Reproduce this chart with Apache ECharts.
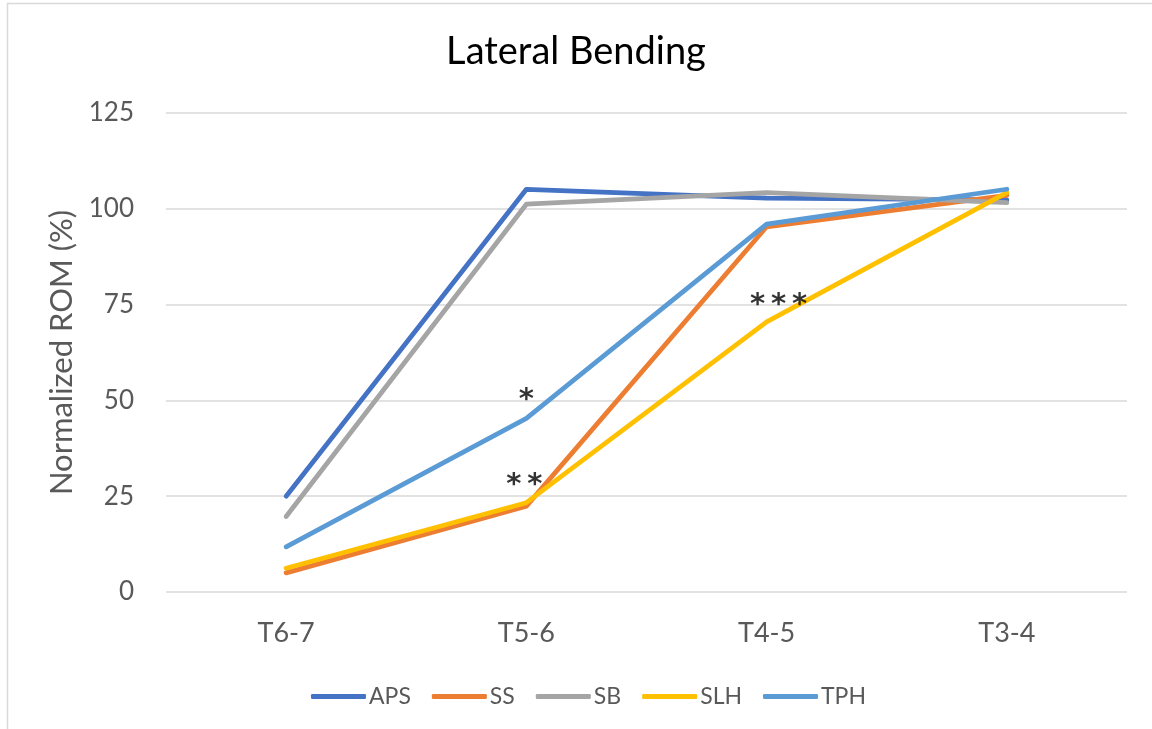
<!DOCTYPE html>
<html>
<head>
<meta charset="utf-8">
<script src="https://cdn.jsdelivr.net/npm/echarts@6/dist/echarts.min.js"></script>
<style>
html,body{margin:0;padding:0;background:#fff;}
#chart{width:1152px;height:729px;}
</style>
</head>
<body>
<div id="chart"></div>
<script>
const categories = ['T6-7', 'T5-6', 'T4-5', 'T3-4'];
const seriesNames = ['APS', 'SS', 'SB', 'SLH', 'TPH'];
const APS = [25, 105.1, 102.8, 102.3];
const SS  = [5.0, 22.4, 95.3, 103.5];
const SB  = [19.7, 101.2, 104.2, 101.6];
const SLH = [6.2, 23.3, 70.5, 104.2];
const TPH = [11.8, 45.3, 96, 105.1];
const colors = ['#4472C4', '#ED7D31', '#A5A5A5', '#FFC000', '#5B9BD5'];
const yTicks = [0, 25, 50, 75, 100, 125];
// significance annotations: [category, value, text]
const annotations = [
  ['T5-6', 51.7, '*'],
  ['T5-6', 29.5, '*\u2009*'],
  ['T4-5', 76.5, '*\u2009*\u2009*']
];
const annotationShiftX = [0, -2, 12];

const FONT = 'Lato, "Open Sans", sans-serif';
const values = [APS, SS, SB, SLH, TPH];

const chart = echarts.init(document.getElementById('chart'), null, {renderer: 'canvas'});
const series = seriesNames.map((n, i) => ({
  name: n,
  type: 'line',
  data: values[i],
  symbol: 'none',
  smooth: false,
  lineStyle: {width: 4.75, color: colors[i], cap: 'round', join: 'round'},
  itemStyle: {color: colors[i]},
  z: 2 + i
}));
const ASTER_SIZE = 29;
series.push({
  name: 'annotations',
  type: 'scatter',
  data: annotations.map((a, i) => ({
    value: [a[0], a[1]],
    label: {formatter: a[2], offset: [annotationShiftX[i], Math.round(ASTER_SIZE * 0.24)]}
  })),
  symbolSize: 0,
  silent: true,
  label: {show: true, position: 'inside', color: '#000', fontSize: ASTER_SIZE, fontFamily: 'DejaVu Sans', fontWeight: 'bold'},
  z: 10
});

chart.setOption({
  animation: false,
  backgroundColor: '#fff',
  color: colors,
  title: {
    text: 'Lateral Bending',
    left: 'center',
    top: 28,
    textStyle: {fontFamily: FONT, fontSize: 38, fontWeight: 'normal', color: '#000'}
  },
  graphic: [{
    type: 'rect',
    shape: {x: 7.5, y: 3.5, width: 1300, height: 900},
    style: {fill: 'none', stroke: '#d9d9d9', lineWidth: 1.5},
    silent: true
  }],
  legend: {
    data: seriesNames,
    top: 680,
    left: 306,
    icon: 'roundRect',
    itemWidth: 55,
    itemHeight: 5,
    itemGap: 21,
    textStyle: {fontFamily: FONT, fontSize: 23, color: '#595959', padding: [0, 0, 0, -2]}
  },
  grid: {left: 166, right: 25, top: 113, bottom: 137, containLabel: false},
  xAxis: {
    type: 'category',
    data: categories,
    boundaryGap: true,
    axisLine: {show: false},
    axisTick: {show: false},
    axisLabel: {fontFamily: FONT, fontSize: 27, color: '#595959', margin: 28}
  },
  yAxis: {
    type: 'value',
    min: yTicks[0],
    max: yTicks[yTicks.length - 1],
    interval: 25,
    name: 'Normalized ROM (%)',
    nameLocation: 'middle',
    nameGap: 89,
    nameRotate: 90,
    nameTextStyle: {fontFamily: FONT, fontSize: 31, color: '#595959'},
    axisLine: {show: false},
    axisTick: {show: false},
    axisLabel: {fontFamily: FONT, fontSize: 26, color: '#595959', margin: 32},
    splitLine: {lineStyle: {color: '#d9d9d9', width: 1.5}}
  },
  series: series
});
</script>
</body>
</html>
